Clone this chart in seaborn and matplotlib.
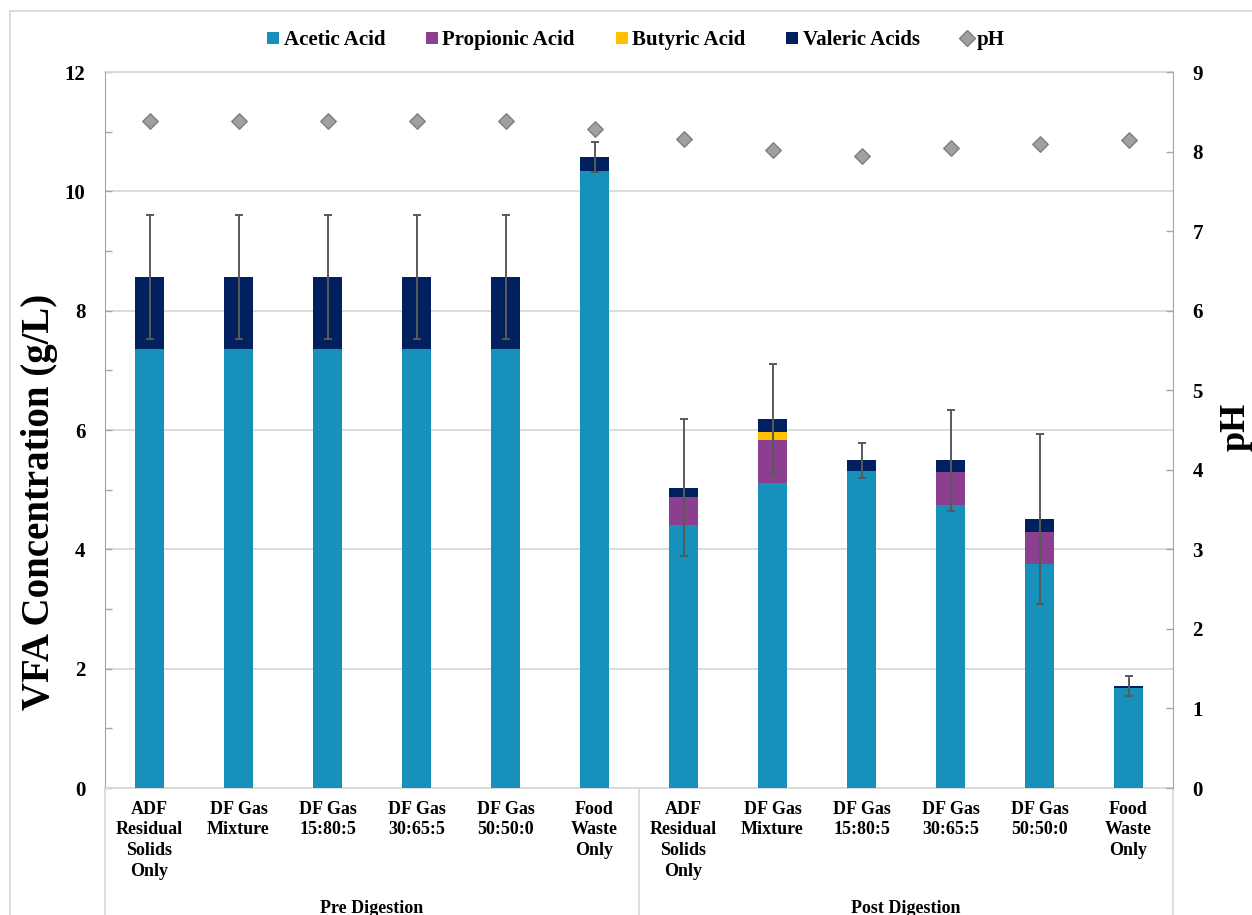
import numpy as np
import pandas as pd
import matplotlib
matplotlib.use("Agg")
import matplotlib.pyplot as plt
from matplotlib.lines import Line2D
import matplotlib.transforms as mtransforms
import seaborn as sns

# ---- data -------------------------------------------------------------
categories = [
    "ADF\nResidual\nSolids\nOnly", "DF Gas\nMixture", "DF Gas\n15:80:5",
    "DF Gas\n30:65:5", "DF Gas\n50:50:0", "Food\nWaste\nOnly",
    "ADF\nResidual\nSolids\nOnly", "DF Gas\nMixture", "DF Gas\n15:80:5",
    "DF Gas\n30:65:5", "DF Gas\n50:50:0", "Food\nWaste\nOnly",
]
groups = ["Pre Digestion", "Post Digestion"]
acetic = [7.35, 7.35, 7.35, 7.35, 7.35, 10.34, 4.41, 5.11, 5.31, 4.75, 3.75, 1.68]
propionic = [0, 0, 0, 0, 0, 0, 0.47, 0.72, 0, 0.55, 0.54, 0]
butyric = [0, 0, 0, 0, 0, 0, 0, 0.14, 0, 0, 0, 0]
valeric = [1.21, 1.21, 1.21, 1.21, 1.21, 0.24, 0.15, 0.21, 0.18, 0.19, 0.22, 0.03]
total_err = [1.04, 1.04, 1.04, 1.04, 1.04, 0.25, 1.15, 0.92, 0.30, 0.84, 1.42, 0.16]
ph = [8.39, 8.39, 8.39, 8.39, 8.39, 8.28, 8.16, 8.02, 7.95, 8.04, 8.09, 8.14]

series_names = ["Acetic Acid", "Propionic Acid", "Butyric Acid", "Valeric Acids"]
series_colors = ["#1591BB", "#8B3F8E", "#FFC000", "#002060"]

df = pd.DataFrame({
    "pos": np.arange(len(categories)),
    "Acetic Acid": acetic,
    "Propionic Acid": propionic,
    "Butyric Acid": butyric,
    "Valeric Acids": valeric,
    "err": total_err,
    "pH": ph,
})
# cumulative tops for stacking (drawn tallest first so lower layers sit on top)
cum = df[series_names].cumsum(axis=1)
df["total"] = cum["Valeric Acids"]

# ---- style ------------------------------------------------------------
sns.set_style("white")
plt.rcParams["font.family"] = ["Liberation Serif", "DejaVu Serif"]
plt.rcParams["font.weight"] = "bold"
plt.rcParams["text.color"] = "black"
plt.rcParams["axes.labelcolor"] = "black"
plt.rcParams["xtick.labelcolor"] = "black"
plt.rcParams["ytick.labelcolor"] = "black"

W, H = 1252, 915
fig = plt.figure(figsize=(W / 100, H / 100), dpi=100)
ax = fig.add_axes([105 / W, 1 - 788 / H, (1173 - 105) / W, (788 - 72) / H])

grid_c = "#d9d9d9"
spine_c = "#a6a6a6"
bar_w = 0.315

for name, color in reversed(list(zip(series_names, series_colors))):
    sns.barplot(x=df["pos"], y=cum[name], color=color, saturation=1,
                width=bar_w, linewidth=0, ax=ax, zorder=3)

ax.errorbar(df["pos"], df["total"], yerr=df["err"], fmt="none",
            ecolor="#595959", elinewidth=1.4, capsize=3, capthick=1.4, zorder=4)

ax.set_xlim(-0.5, len(categories) - 0.5)
ax.set_ylim(0, 12)
ax.set_yticks(np.arange(0, 13, 2))
ax.set_yticks(np.arange(0, 13, 1), minor=True)
ax.yaxis.grid(True, color=grid_c, linewidth=1.3, zorder=0)
ax.set_axisbelow(True)
ax.axhline(12, color=grid_c, linewidth=1.3, clip_on=False, zorder=1)
ax.tick_params(axis="y", which="both", direction="in", length=5, width=1,
               color=spine_c, labelsize=15, pad=14, labelcolor="black")
ax.set_xticks(df["pos"])
ax.set_xticklabels(categories, fontsize=13, fontweight="bold", linespacing=1.3,
                   va="top", color="black")
ax.tick_params(axis="x", length=0, pad=9)
ax.set_xlabel("")
ax.set_ylabel("VFA Concentration (g/L)", fontsize=28, fontweight="bold",
              color="black")
ax.yaxis.label.set_va("center")
ax.yaxis.set_label_coords(-0.061, 0.40)

for s in ["top", "right"]:
    ax.spines[s].set_visible(False)
ax.spines["left"].set_color(spine_c)
ax.spines["bottom"].set_color(grid_c)
ax.spines["bottom"].set_linewidth(1.3)

# group dividers and labels below the category axis
trans = mtransforms.blended_transform_factory(ax.transData, ax.transAxes)
for xd in [-0.5, 5.5, 11.5]:
    ax.add_line(Line2D([xd, xd], [0, -0.2], transform=trans, color=grid_c,
                       linewidth=1.3, clip_on=False))
ax.text(2.5, -0.157, groups[0], transform=trans, ha="center", va="top",
        fontsize=13, fontweight="bold", color="black")
ax.text(8.5, -0.157, groups[1], transform=trans, ha="center", va="top",
        fontsize=13, fontweight="bold", color="black")

# pH on secondary axis
ax2 = ax.twinx()
sns.scatterplot(x=df["pos"], y=df["pH"], marker="D", s=62, color="#A0A0A0",
                edgecolor="#7f7f7f", linewidth=1, ax=ax2, zorder=5, legend=False)
ax2.set_ylim(0, 9)
ax2.set_yticks(np.arange(0, 10, 1))
ax2.tick_params(axis="y", direction="in", length=5, width=1, color=spine_c,
                labelsize=15, pad=14, labelcolor="black")
ax2.set_ylabel("pH", fontsize=26, fontweight="bold", rotation=90, color="black")
ax2.yaxis.label.set_va("center")
ax2.yaxis.set_label_coords(1.059, 0.505)
for s in ["top", "left", "bottom"]:
    ax2.spines[s].set_visible(False)
ax2.spines["right"].set_color(spine_c)
ax2.set_xlim(-0.5, len(categories) - 0.5)

# legend
handles = [Line2D([], [], marker="s", linestyle="none", markersize=9,
                  markerfacecolor=c, markeredgewidth=0) for c in series_colors]
handles.append(Line2D([], [], marker="D", linestyle="none", markersize=8,
                      markerfacecolor="#A0A0A0", markeredgecolor="#7f7f7f",
                      markeredgewidth=1))
leg = fig.legend(handles, series_names + ["pH"], loc="center", ncol=5,
                 bbox_to_anchor=(636 / W, 1 - 40 / H), frameon=False,
                 prop={"size": 15, "weight": "bold"}, handlelength=0.6,
                 handletextpad=0.2, columnspacing=1.95)
for t in leg.get_texts():
    t.set_color("black")

# outer chart-area frame
fc = grid_c
fig.add_artist(Line2D([10 / W, 10 / W], [0, 1 - 11 / H], transform=fig.transFigure,
                      color=fc, linewidth=1.3))
fig.add_artist(Line2D([10 / W, 1], [1 - 11 / H, 1 - 11 / H], transform=fig.transFigure,
                      color=fc, linewidth=1.3))

fig.savefig("out.png", dpi=100)
